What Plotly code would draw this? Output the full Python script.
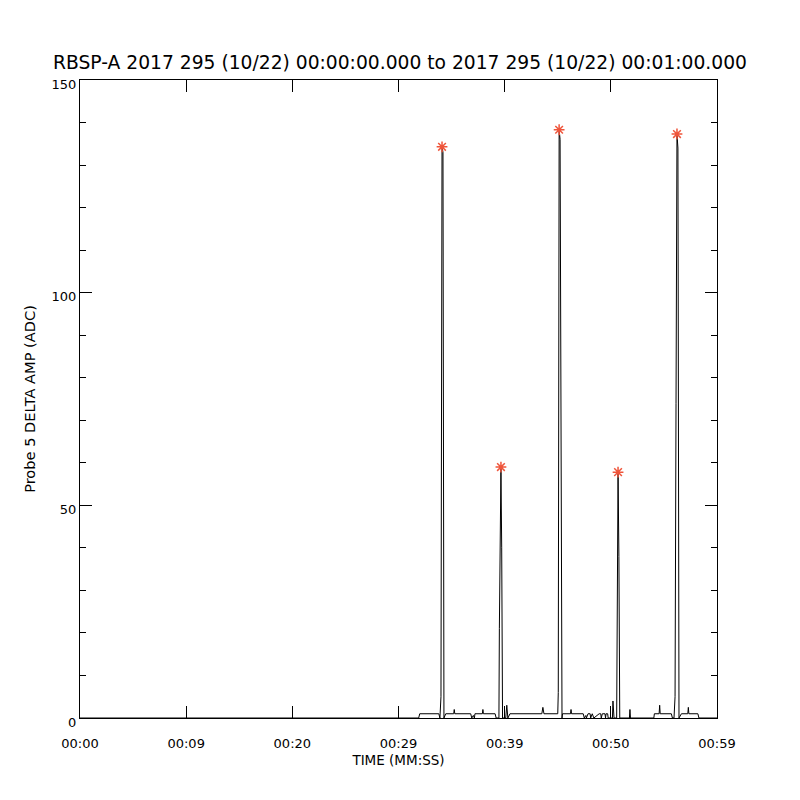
import plotly.graph_objects as go

# probe 5 delta amplitude samples (seconds after 00:00:00, ADC counts)
time_s = [
    0.0, 31.9, 32.0, 33.8, 33.9, 34.0, 34.1, 34.19, 34.28, 34.45,
    35.2, 35.25, 35.3, 36.8, 36.9, 37.05, 37.15, 37.2, 37.9, 37.95,
    38.0, 39.1, 39.2, 39.46, 39.5, 39.58, 39.65, 39.72, 39.8, 40.1, 40.2,
    40.3, 40.5, 43.5, 43.6, 43.7, 45.0, 45.05, 45.13, 45.22, 45.31,
    45.4, 45.45, 46.2, 46.25, 46.3, 47.4, 47.5, 47.65, 47.7, 47.85,
    48.05, 48.1, 48.25, 48.4, 48.9, 49.05, 49.1, 49.2, 49.45, 49.5,
    49.55, 49.7, 49.75, 50.15, 50.2, 50.3, 50.55, 50.6, 50.68, 50.76,
    50.84, 51.75, 51.8, 51.85, 54.05, 54.1, 54.55, 54.6, 54.65, 55.7,
    55.8, 55.95, 56.05, 56.14, 56.23, 56.32, 56.42, 56.65, 57.25, 57.3,
    57.35, 58.2, 58.3, 60.0,
]
amp_adc = [
    0, 0, 1, 1, 0, 5, 134.3, 133, 0, 1,
    1, 2, 1, 1, 0, 0.6, 0, 1, 1, 2,
    1, 1, 0, 0, 21, 48, 59, 40, 0, 0, 3,
    0, 1, 1, 2.5, 1, 1, 6, 138.3, 136, 71,
    0, 1, 1, 2, 1, 1, 0, 0.6, 0, 1,
    1, 0, 1, 0, 1, 1, 0, 1, 1, 0,
    1, 1, 0, 0, 4, 0, 0, 21, 57.8, 38,
    0, 0, 2, 0, 0, 1, 1, 3, 1, 1,
    0, 0, 5, 74, 137.3, 134, 0, 1, 1, 2.5,
    1, 1, 0, 0,
]

# detected peaks
peak_t = [34.1, 39.65, 45.13, 50.68, 56.23]
peak_amp = [134.3, 59, 138.3, 57.8, 137.3]

tick_vals = [0, 10, 20, 30, 40, 50, 60]
tick_text = ["00:00", "00:09", "00:20", "00:29", "00:39", "00:50", "00:59"]

FONT = "DejaVu Sans"

fig = go.Figure()
fig.add_trace(go.Scatter(x=time_s, y=amp_adc, mode="lines",
                         line=dict(color="black", width=1), showlegend=False))
fig.add_trace(go.Scatter(x=peak_t, y=peak_amp, mode="markers",
                         marker=dict(symbol="asterisk-open", size=9,
                                     line=dict(color="#ff0000", width=1.5)),
                         showlegend=False))

axis_common = dict(showgrid=False, zeroline=False, showline=True, linecolor="black",
                   linewidth=1, mirror="allticks", ticks="inside", ticklen=12,
                   tickcolor="black", tickwidth=1)

fig.update_xaxes(range=[0, 60], tickvals=tick_vals, ticktext=tick_text,
                 tickfont=dict(family=FONT, size=13, color="black"),
                 ticklabelstandoff=13,
                 title=dict(text="TIME (MM:SS)", standoff=5,
                            font=dict(family=FONT, size=13.5, color="black")),
                 **axis_common)
fig.update_yaxes(range=[0, 150], tickvals=[0, 50, 100, 150],
                 tickfont=dict(family=FONT, size=13, color="black"),
                 ticklabelshift=4,
                 minor=dict(dtick=10, ticks="inside", ticklen=6, tickcolor="black"),
                 title=dict(text="Probe 5 DELTA AMP (ADC)", standoff=12,
                            font=dict(family=FONT, size=14.6, color="black")),
                 **axis_common)

fig.update_layout(
    width=800, height=800,
    margin=dict(l=72, r=91, t=72, b=90),
    paper_bgcolor="white", plot_bgcolor="white",
    title=dict(text="RBSP-A 2017 295 (10/22) 00:00:00.000 to 2017 295 (10/22) 00:01:00.000",
               x=392 / 800, xanchor="center", y=1 - 54 / 800, yanchor="middle",
               font=dict(family=FONT, size=18.7, color="black")),
)

fig.write_html("out.html")
